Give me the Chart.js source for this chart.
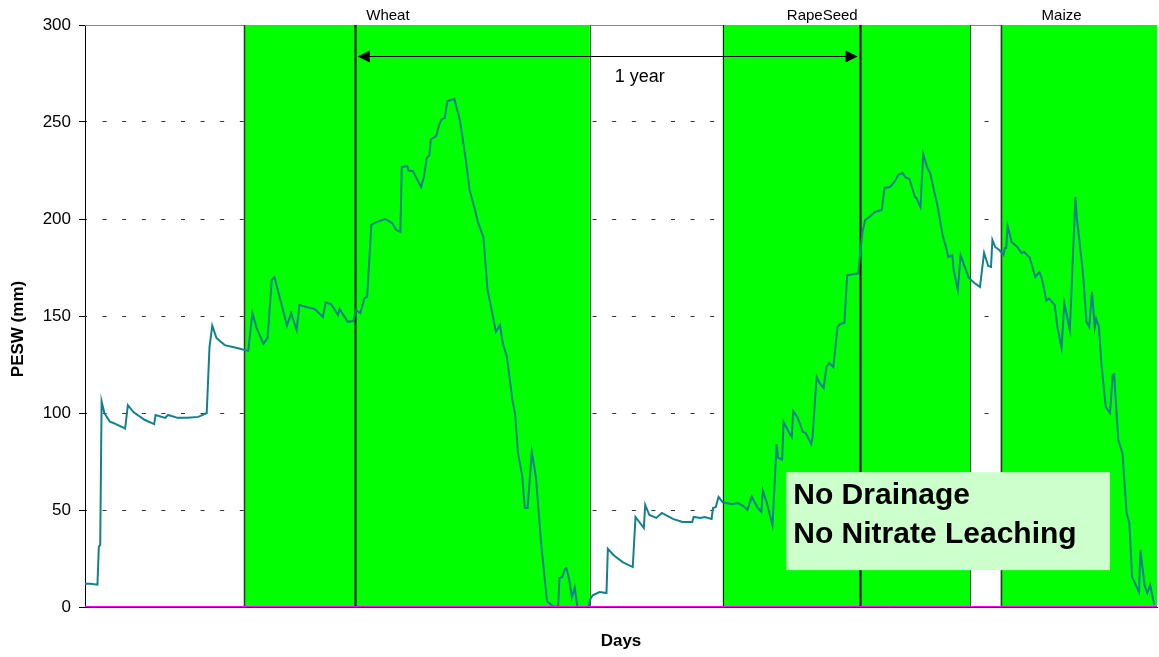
<!DOCTYPE html>
<html>
<head>
<meta charset="utf-8">
<script src="https://cdn.jsdelivr.net/npm/chart.js@4.4.1/dist/chart.umd.min.js"></script>
<style>
  html,body{margin:0;padding:0;background:#fff;}
  #wrap{width:1159px;height:657px;}
</style>
</head>
<body>
<div id="wrap"><canvas id="chart" width="1159" height="657"></canvas></div>
<script>
/* PESW trace (day, mm) */
const DAYS = [0,4,9,10,11,12,14,18,20,29,31,35,43,50,51,58,60,67,74,82,88,90,92,95,101,110,118,
  121,124,129,132,135,137,141,146,149,153,155,160,166,172,174,178,183,184,190,194,196,199,202,204,
  207,211,217,222,225,228,229,233,234,237,243,245,247,249,250,254,256,258,260,262,267,271,275,278,
  282,284,288,291,295,297,300,302,305,309,311,313,316,318,320,323,326,330,334,338,342,343,345,347,
  348,350,352,354,356,364,365,367,372,377,378,382,389,396,398,404,405,408,413,417,425,432,439,440,
  445,448,453,454,456,458,461,468,472,476,479,482,486,489,490,493,497,500,501,504,505,510,511,512,
  515,519,521,525,526,528,529,531,534,536,538,541,544,546,549,551,556,559,562,564,567,571,576,578,
  582,585,588,591,593,596,598,600,601,604,606,609,611,614,616,620,623,624,627,628,631,633,636,639,
  643,647,650,653,655,656,658,661,664,665,666,667,670,674,677,679,683,687,690,692,695,697,701,703,
  706,708,712,716,717,721,722,724,726,728,730,731,733,735,738,741,743,744,747,750,753,755,757,762,
  763,766,768,770,773];
const PESW = [12,12,11.5,31,32,106,100,95.5,95,92,104,100.5,96.5,94.3,99,97.5,99,97.5,97.5,98,100,134,145,138.7,135,133.5,132,
  151.5,144,135.6,138.7,168.6,170,159,145,151.5,142.8,155.7,154.6,153.6,149.5,157,156,150.5,153.6,147,147.4,153,151.5,159,160,
  197,198.5,200,198,194.3,193.3,226.8,227.3,225,224.7,216.5,221.6,231.4,233,241,242.8,248.5,251.5,252,260.8,261.8,251,232,215,
  204.6,198.5,190.7,163.4,149.5,141.8,145.4,136,129,106.7,99,79.4,68,51,51,79.9,67,31,3,0.5,0,15,15.5,19.6,
  20,14.4,5,10,0,0,3.6,6,7.7,7.2,30,26.8,23,20.6,46.4,40.7,52.6,47.4,45.9,48.5,45.4,43.8,43.8,46.4,
  45.9,46.4,45.4,51,51.5,56.7,54,53,53.6,52,50,57,51.5,49,60,53.6,42,84,77,75.8,95.4,88.7,87.6,101,
  98,90.2,89.7,84,87.6,109.3,118.6,115.5,112.9,123.7,125.8,123.7,144.3,145.9,146.4,171,171.6,172,193,199.5,201,203.6,204.6,216,
  216.5,219,222.7,223.7,221.6,220.6,216,211.3,211,206,233.5,226.3,223.7,213.9,208,191.8,184,180.4,181.4,173.7,163.4,181.4,175.3,169.6,
  167,165,182.5,175.8,175.3,189.2,185.6,184,181.4,185,185,196.4,188,185.6,182.5,183,180,170,172.7,168.6,158,159,155.7,144.3,
  133.5,156.7,142.8,211.3,201,175.3,167,147,144.3,162.4,144.3,148.5,144.3,123.7,103,100,119.6,120,86,79.4,48.5,43.3,15.5,7.7,
  29.4,11.3,7.2,11.3,1];

const ZERO_DAYS = [0, 775];
const ZERO_VALUES = [0, 0];

const Y_TICKS = [0, 50, 100, 150, 200, 250, 300];
const CROP_BANDS = [[115, 365], [461, 640], [662, 775]];   // green crop periods (days)
const CROP_NAMES = ["Wheat", "RapeSeed", "Maize"];
const CROP_LABEL_DAYS = [219, 533, 706];
const EVENT_DAYS = [115, 195, 365, 461, 560, 640, 662];      // vertical markers
const YEAR_SPAN = [195, 560];
const YEAR_LABEL_DAY = 401;
const NOTE_LINES = ["No Drainage", "No Nitrate Leaching"];

const FONT = "'Liberation Sans', Arial, Helvetica, sans-serif";

/* ---------- decorations ---------- */
const EVENT_STYLE = [
  { c: "#333", w: 1.5 }, { c: "#000", w: 2 }, { c: "#555", w: 1 }, { c: "#000", w: 1 },
  { c: "#000", w: 2 },   { c: "#444", w: 1 }, { c: "#333", w: 1.5 }
];

const backdrop = {
  id: "backdrop",
  beforeDatasetsDraw(chart) {
    const { ctx, chartArea: a, scales: { x } } = chart;
    ctx.save();
    // plot-area top border
    ctx.strokeStyle = "#888"; ctx.lineWidth = 1;
    ctx.beginPath(); ctx.moveTo(a.left, a.top + 0.5); ctx.lineTo(a.right, a.top + 0.5); ctx.stroke();
    // green crop bands
    ctx.fillStyle = "#00FF00";
    CROP_BANDS.forEach(([s, e]) => {
      const x0 = x.getPixelForValue(s), x1 = x.getPixelForValue(e);
      ctx.fillRect(x0, a.top, x1 - x0, a.bottom - a.top);
    });
    // vertical markers
    EVENT_DAYS.forEach((d, i) => {
      const px = Math.round(x.getPixelForValue(d)) + 0.5;
      ctx.strokeStyle = EVENT_STYLE[i].c; ctx.lineWidth = EVENT_STYLE[i].w;
      ctx.beginPath(); ctx.moveTo(px, a.top); ctx.lineTo(px, a.bottom); ctx.stroke();
    });
    ctx.restore();
  },
  afterDatasetsDraw(chart) {
    const { ctx, chartArea: a, scales: { x, y } } = chart;
    ctx.save();
    // crop names above plot
    ctx.fillStyle = "#000"; ctx.font = "15px " + FONT;
    ctx.textAlign = "center"; ctx.textBaseline = "middle";
    CROP_NAMES.forEach((n, i) => ctx.fillText(n, x.getPixelForValue(CROP_LABEL_DAYS[i]), a.top - 9));

    // 1 year double arrow
    const ay = Math.round(y.getPixelForValue(284)) + 0.5;
    const xa = x.getPixelForValue(YEAR_SPAN[0]) + 3, xb = x.getPixelForValue(YEAR_SPAN[1]) - 2;
    ctx.strokeStyle = "#000"; ctx.lineWidth = 1;
    ctx.beginPath(); ctx.moveTo(xa + 8, ay); ctx.lineTo(xb - 8, ay); ctx.stroke();
    ctx.beginPath(); ctx.moveTo(xa, ay); ctx.lineTo(xa + 12, ay - 6); ctx.lineTo(xa + 12, ay + 6); ctx.closePath(); ctx.fill();
    ctx.beginPath(); ctx.moveTo(xb, ay); ctx.lineTo(xb - 12, ay - 6); ctx.lineTo(xb - 12, ay + 6); ctx.closePath(); ctx.fill();
    ctx.font = "18px " + FONT;
    ctx.fillText("1 year", x.getPixelForValue(YEAR_LABEL_DAY), y.getPixelForValue(273));

    // note box
    const bx0 = x.getPixelForValue(507), bx1 = x.getPixelForValue(741);
    const by0 = y.getPixelForValue(69.5), by1 = y.getPixelForValue(19);
    ctx.fillStyle = "#CCFFCC";
    ctx.fillRect(bx0, by0, bx1 - bx0, by1 - by0);
    ctx.fillStyle = "#000"; ctx.font = "bold 30px " + FONT;
    ctx.textAlign = "left"; ctx.textBaseline = "alphabetic";
    NOTE_LINES.forEach((t, i) => ctx.fillText(t, bx0 + 7, by0 + 32 + i * 39));
    ctx.restore();
  },
  afterDraw(chart) {
    // y-axis title
    const { ctx } = chart;
    ctx.save();
    ctx.translate(18, 329);
    ctx.rotate(-Math.PI / 2);
    ctx.fillStyle = "#000"; ctx.font = "bold 17px " + FONT;
    ctx.textAlign = "center"; ctx.textBaseline = "middle";
    ctx.fillText("PESW (mm)", 0, 0);
    ctx.restore();
  }
};

/* ---------- chart ---------- */
const ctx = document.getElementById("chart").getContext("2d");
new Chart(ctx, {
  type: "line",
  data: {
    datasets: [
      {
        label: "PESW",
        data: DAYS.map((d, i) => ({ x: d, y: PESW[i] })),
        borderColor: "#13808A",
        borderWidth: 2,
        pointRadius: 0,
        tension: 0,
        order: 2
      },
      {
        label: "zero",
        data: ZERO_DAYS.map((d, i) => ({ x: d, y: ZERO_VALUES[i] })),
        borderColor: "#FF00FF",
        borderWidth: 2,
        pointRadius: 0,
        order: 1
      }
    ]
  },
  options: {
    responsive: false,
    devicePixelRatio: 1,
    animation: false,
    clip: false,
    layout: { padding: { top: 25, right: 2, left: 0, bottom: 0 } },
    plugins: { legend: { display: false }, tooltip: { enabled: false } },
    scales: {
      x: {
        type: "linear",
        min: 0, max: 775,
        ticks: { display: false },
        grid: { display: false },
        border: { display: true, color: "#000080", width: 1, z: 1 },
        title: { display: true, text: "Days", color: "#000", font: { family: FONT, size: 17, weight: "bold" }, padding: { top: 0, bottom: 5 } },
        afterFit(s) { s.height = 50; }
      },
      y: {
        min: 0, max: 300,
        afterBuildTicks(s) { s.ticks = Y_TICKS.map(v => ({ value: v })); },
        ticks: { color: "#000", font: { family: FONT, size: 17 }, padding: 8 },
        grid: {
          color: (c) => (c.tick && (c.tick.value === 0 || c.tick.value === 300)) ? "rgba(0,0,0,0)" : "#333",
          lineWidth: 1,
          tickLength: 6,
          tickColor: "#000",
          tickWidth: 1
        },
        border: { display: true, color: "#000", width: 1, dash: [4, 15.6], dashOffset: 3 },
        title: { display: false },
        afterFit(s) { s.width = 85; }
      }
    }
  },
  plugins: [backdrop]
});
</script>
</body>
</html>
